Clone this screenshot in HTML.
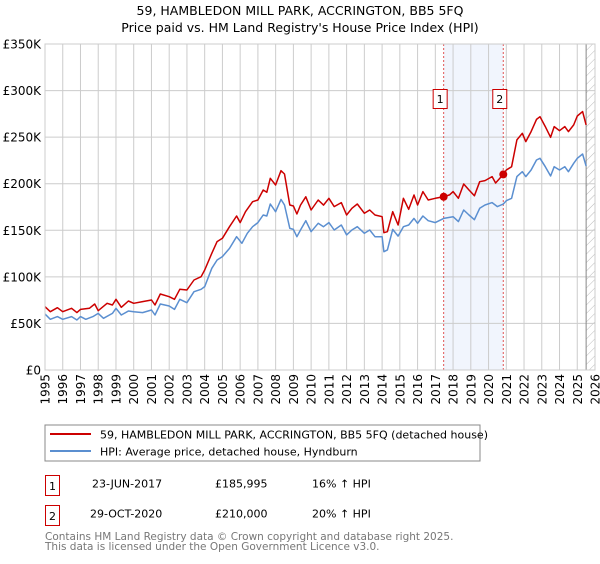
<!DOCTYPE html>
<html><head><meta charset="utf-8"><style>
body{margin:0;background:#fff;font-family:"DejaVu Sans","Liberation Sans",sans-serif;}
svg text{font-family:"DejaVu Sans","Liberation Sans",sans-serif;}
</style></head><body>
<svg id="c" width="600" height="560" xmlns="http://www.w3.org/2000/svg">
<defs><pattern id="hatch" width="6" height="6" patternUnits="userSpaceOnUse" patternTransform="rotate(45)"><line x1="0" y1="0" x2="0" y2="6" stroke="#bbb" stroke-width="1"/></pattern></defs>
<text x="300" y="15" text-anchor="middle" font-size="12.5">59, HAMBLEDON MILL PARK, ACCRINGTON, BB5 5FQ</text>
<text x="300" y="32" text-anchor="middle" font-size="12.5">Price paid vs. HM Land Registry's House Price Index (HPI)</text>
<g id="grid"></g><g id="plot"></g><g id="axes"></g>
<rect x="45" y="425" width="435" height="36" fill="#fff" stroke="#888"/>
<line x1="50" y1="434" x2="91" y2="434" stroke="#cc0000" stroke-width="2"/>
<text x="100" y="438.5" font-size="11">59, HAMBLEDON MILL PARK, ACCRINGTON, BB5 5FQ (detached house)</text>
<line x1="50" y1="451" x2="91" y2="451" stroke="#5b8fd0" stroke-width="2"/>
<text x="100" y="455.5" font-size="11">HPI: Average price, detached house, Hyndburn</text>
<g font-size="11">
<rect x="45.5" y="475.5" width="14" height="20" fill="#fff" stroke="#cc0000"/><text x="52.5" y="490" text-anchor="middle">1</text>
<text x="92" y="487.5">23-JUN-2017</text><text x="215" y="487.5">£185,995</text><text x="312" y="487.5">16% ↑ HPI</text></g>
<g font-size="11">
<rect x="45.5" y="505.5" width="14" height="20" fill="#fff" stroke="#cc0000"/><text x="52.5" y="520" text-anchor="middle">2</text>
<text x="90" y="517.5">29-OCT-2020</text><text x="215" y="517.5">£210,000</text><text x="312" y="517.5">20% ↑ HPI</text></g>
<text x="45" y="540" font-size="10.5" fill="#777">Contains HM Land Registry data © Crown copyright and database right 2025.</text>
<text x="45" y="550" font-size="10.5" fill="#777">This data is licensed under the Open Government Licence v3.0.</text>
</svg>
<script>
const yTicks=[0,50,100,150,200,250,300,350];
const yTickLabels=["£0","£50K","£100K","£150K","£200K","£250K","£300K","£350K"];
const xYears=[1995,1996,1997,1998,1999,2000,2001,2002,2003,2004,2005,2006,2007,2008,2009,2010,2011,2012,2013,2014,2015,2016,2017,2018,2019,2020,2021,2022,2023,2024,2025,2026];
const priceT=[1995.0,1995.3,1995.7,1996.0,1996.5,1996.8,1997.0,1997.5,1997.8,1998.0,1998.5,1998.8,1999.0,1999.3,1999.7,2000.0,2000.5,2001.0,2001.2,2001.5,2002.0,2002.3,2002.6,2003.0,2003.4,2003.8,2004.0,2004.4,2004.7,2005.0,2005.4,2005.8,2006.0,2006.3,2006.7,2007.0,2007.3,2007.5,2007.7,2008.0,2008.3,2008.5,2008.8,2009.0,2009.2,2009.4,2009.7,2010.0,2010.4,2010.7,2011.0,2011.3,2011.7,2012.0,2012.3,2012.6,2013.0,2013.3,2013.6,2014.0,2014.1,2014.3,2014.6,2014.9,2015.2,2015.5,2015.8,2016.0,2016.3,2016.6,2017.0,2017.47,2017.8,2018.0,2018.3,2018.6,2018.9,2019.2,2019.5,2019.8,2020.2,2020.4,2020.83,2021.0,2021.3,2021.6,2021.9,2022.1,2022.4,2022.7,2022.9,2023.2,2023.5,2023.7,2024.0,2024.3,2024.5,2024.8,2025.0,2025.3,2025.5];
const priceV=[68,62.6,66.9,62.6,66.2,61.6,65.1,66.2,70.9,63.7,71.6,69.8,75.9,67.3,74.1,71.6,73.4,75.2,69.8,81.6,78.7,75.9,86.6,85.9,96.6,100.2,107.4,125.3,137.8,141.4,153.9,165.3,158.2,170,180.7,182.5,193.3,190.8,205.8,198.6,214,210.4,177.2,176.1,167.5,177,186,171.8,182.5,177,184.3,175.4,179.7,166.4,173.6,178.2,168.2,171.8,166.4,164.6,147.4,148.5,170,155.7,184.3,172.5,187.9,177.2,191.5,182.5,184.3,186,188,191.5,184.3,199.7,193.3,187,202.2,203.3,207.6,200.8,210,214.7,218.3,247,254.1,245.2,255.9,269.1,272,261.3,249.8,261.3,256.9,261.3,255.9,263.1,272.7,277.4,263.1];
const hpiT=[1995.0,1995.3,1995.7,1996.0,1996.5,1996.8,1997.0,1997.3,1997.7,1998.0,1998.3,1998.8,1999.0,1999.3,1999.7,2000.0,2000.5,2001.0,2001.2,2001.5,2002.0,2002.3,2002.6,2003.0,2003.4,2003.8,2004.0,2004.4,2004.7,2005.0,2005.4,2005.8,2006.1,2006.4,2006.7,2007.0,2007.3,2007.5,2007.7,2008.0,2008.3,2008.5,2008.8,2009.0,2009.2,2009.4,2009.7,2010.0,2010.4,2010.7,2011.0,2011.3,2011.7,2012.0,2012.3,2012.6,2013.0,2013.3,2013.6,2014.0,2014.1,2014.3,2014.6,2014.9,2015.2,2015.5,2015.8,2016.0,2016.3,2016.6,2017.0,2017.47,2018.0,2018.3,2018.6,2018.9,2019.2,2019.5,2019.8,2020.2,2020.5,2020.83,2021.0,2021.3,2021.6,2021.9,2022.1,2022.4,2022.7,2022.9,2023.2,2023.5,2023.7,2024.0,2024.3,2024.5,2024.8,2025.0,2025.3,2025.5];
const hpiV=[60.1,54.4,57.3,54.4,57.3,53.7,57.3,54.4,57.3,60.8,55.5,60.8,66.2,59.1,63.3,62.6,61.6,64.4,59.1,70.9,68.7,65.1,75.9,72.3,84.1,86.6,89.5,109.2,118.1,121.7,130.6,143.1,136,146.8,153.9,158.2,166.4,165.3,178.2,170,183.2,177.2,152.1,151,143.1,150.3,160.3,148.5,157.5,153.9,158.2,150.3,155.7,145,150.3,153.9,146.8,150.3,143.1,143.1,127,128.9,151,143.8,153.9,155.7,162.8,157.5,165.3,160.3,158.2,162.8,164.6,159.3,171.8,166.4,161.4,173.6,177.2,179.7,175.4,178.2,181.8,184.3,207.6,212.9,207.6,214.7,225.5,227.3,218.3,208.3,218.3,214.7,218.3,212.9,221.9,227.3,231.9,218.9];
const saleT=[2017.47,2020.83];
const saleV=[185.995,210];
const saleLabels=["1","2"];
const X0=45,X1=595,Y0=370,Y1=44;
const xs=t=>X0+(t-1995)/(2026-1995)*(X1-X0);
const ys=v=>Y0-v/350*(Y0-Y1);
const NS="http://www.w3.org/2000/svg";
function mk(tag,attrs,parent){const e=document.createElementNS(NS,tag);for(const k in attrs)e.setAttribute(k,attrs[k]);parent.appendChild(e);return e;}
const grid=document.getElementById('grid'),plot=document.getElementById('plot'),axes=document.getElementById('axes');
// shaded region between sales
let sh=mk('rect',{x:xs(saleT[0]),y:Y1,width:xs(saleT[1])-xs(saleT[0]),height:Y0-Y1,fill:'#eef3fc',opacity:0.8},grid);


let hz=mk('rect',{x:xs(2025.5),y:Y1,width:X1-xs(2025.5),height:Y0-Y1,fill:'url(#hatch)'},grid);


yTicks.forEach((v,i)=>{
  let l=mk('line',{x1:X0,x2:X1,y1:ys(v),y2:ys(v),stroke:'#cccccc','stroke-width':1},grid);
  
  
  let t=mk('text',{x:X0-4,y:ys(v)+4.5,'text-anchor':'end','font-size':12},axes);
  t.textContent=yTickLabels[i];
  
  
});
xYears.forEach(y=>{
  let l=mk('line',{x1:xs(y),x2:xs(y),y1:Y1,y2:Y0,stroke:'#cccccc','stroke-width':1},grid);
  
  
  let t=mk('text',{x:0,y:0,'text-anchor':'end','font-size':12,transform:`translate(${xs(y)+4.5},${Y0+4}) rotate(-90)`},axes);
  t.textContent=y;
  
  
});
let vl=mk('line',{x1:xs(2025.5),x2:xs(2025.5),y1:Y1,y2:Y0,stroke:'#888','stroke-width':1},grid);


saleT.forEach((t,i)=>{
  let l=mk('line',{x1:xs(t),x2:xs(t),y1:Y1,y2:Y0,stroke:'#e05555','stroke-width':1,'stroke-dasharray':'2,2'},grid);
  
  
});
function path(T,V){return T.map((t,i)=>(i?'L':'M')+xs(t).toFixed(1)+','+ys(V[i]).toFixed(1)).join('');}
let hp=mk('path',{d:path(hpiT,hpiV),fill:'none',stroke:'#5b8fd0','stroke-width':1.5,'stroke-linejoin':'round'},plot);


let pp=mk('path',{d:path(priceT,priceV),fill:'none',stroke:'#cc0000','stroke-width':1.5,'stroke-linejoin':'round'},plot);


saleT.forEach((t,i)=>{
  let c=mk('circle',{cx:xs(t),cy:ys(saleV[i]),r:4,fill:'#cc0000'},plot);
  
  
  let g=mk('g',{},plot);
  
  
  mk('rect',{x:xs(t)-10.5,y:89.5,width:14,height:19,fill:'#fff',stroke:'#cc0000'},g);
  let tx=mk('text',{x:xs(t)-3.5,y:103,'text-anchor':'middle','font-size':11},g);
  tx.textContent=saleLabels[i];
});
let b=mk('rect',{x:X0,y:Y1,width:X1-X0,height:Y0-Y1,fill:'none',stroke:'#cccccc'},axes);


</script>
</body></html>
